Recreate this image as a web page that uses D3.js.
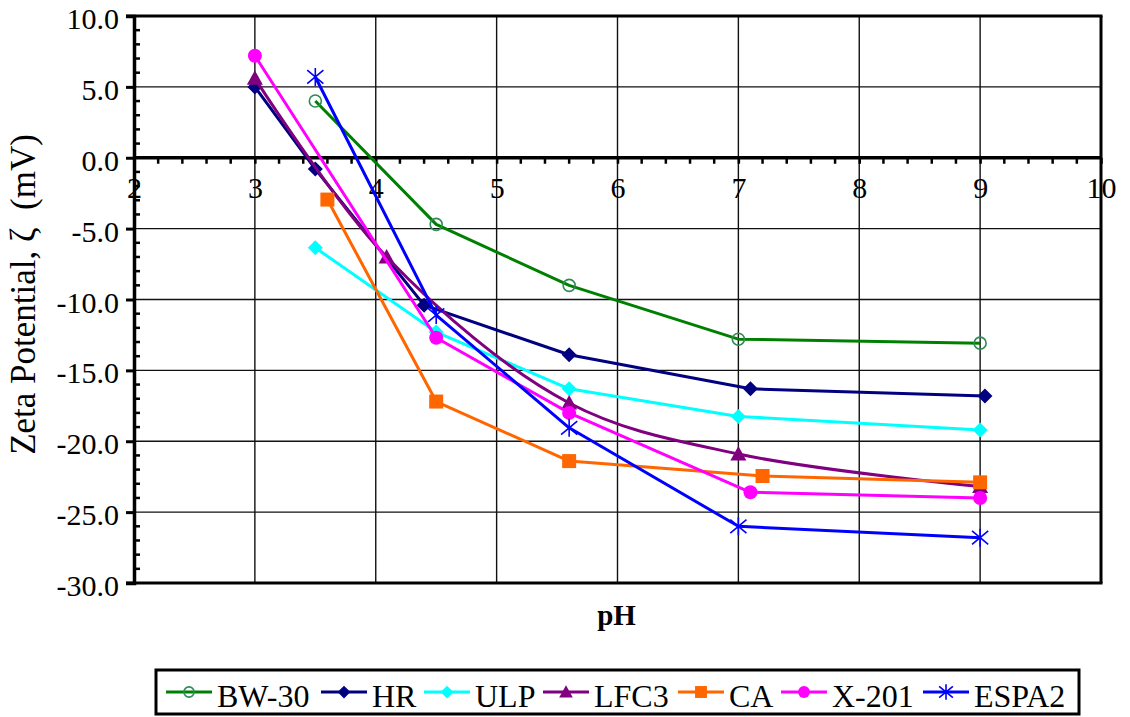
<!DOCTYPE html>
<html><head><meta charset="utf-8">
<script src="https://cdn.jsdelivr.net/npm/d3@7"></script>
<style>
html,body{margin:0;padding:0;background:#fff;}
svg{display:block;}
svg text{font-family:"Liberation Serif","Times New Roman",serif !important;white-space:pre;}
</style></head>
<body>
<svg id="chart" width="1130" height="717"></svg>
<script>
const seriesNames = ["BW-30","HR","ULP","LFC3","CA","X-201","ESPA2"];
const bw30  = [[3.5,4.0],[4.5,-4.7],[5.6,-9.0],[7.0,-12.8],[9.0,-13.08]];
const hr    = [[3.0,5.0],[3.5,-0.8],[4.4,-10.4],[5.6,-13.9],[7.1,-16.3],[9.04,-16.8]];
const ulp   = [[3.5,-6.35],[4.5,-12.3],[5.6,-16.3],[7.0,-18.25],[9.0,-19.2]];
const lfc3  = [[3.0,5.6],[4.09,-7.0],[5.6,-17.3],[7.0,-20.9],[9.0,-23.2]];
const ca    = [[3.6,-2.95],[4.5,-17.2],[5.6,-21.4],[7.2,-22.45],[9.0,-22.9]];
const x201  = [[3.0,7.2],[4.5,-12.7],[5.6,-18.0],[7.1,-23.6],[9.0,-24.0]];
const espa2 = [[3.5,5.7],[4.5,-11.1],[5.6,-19.05],[7.0,-26.0],[9.0,-26.8]];
const xTicks = [2,3,4,5,6,7,8,9,10];
const yTicks = [10,5,0,-5,-10,-15,-20,-25,-30];
const xTitle = "pH";
const yTitle = "Zeta Potential, \u03B6  (mV)";

const seriesData = [bw30,hr,ulp,lfc3,ca,x201,espa2];
const lineColors = ["#008000","#000080","#00ffff","#800080","#ff6600","#ff00ff","#0000ff"];
const markerTypes = ["ocircle","diamond","diamond","triangle","square","circle","asterisk"];
const smooth = [false,false,false,true,false,false,false];

const svg = d3.select("#chart");
const L=134, R=1101, T=16, B=583;
const x = d3.scaleLinear().domain([2,10]).range([L,R]);
const y = d3.scaleLinear().domain([-30,10]).range([B,T]);
const fmtY = d => d.toFixed(1);

// grid
const g = svg.append("g");
g.selectAll(".vg").data(xTicks.slice(1,-1)).join("line")
  .attr("x1",d=>x(d)).attr("x2",d=>x(d)).attr("y1",T).attr("y2",B)
  .attr("stroke","#111").attr("stroke-width",1.4);
g.selectAll(".hg").data(yTicks.filter(d=>d!==10&&d!==-30&&d!==0)).join("line")
  .attr("x1",L).attr("x2",R).attr("y1",d=>y(d)).attr("y2",d=>y(d))
  .attr("stroke","#111").attr("stroke-width",1.4);

// frame
g.append("line").attr("x1",L-8).attr("x2",R+1.5).attr("y1",T).attr("y2",T).attr("stroke","#000").attr("stroke-width",3);
g.append("line").attr("x1",L-8).attr("x2",R+1.5).attr("y1",B).attr("y2",B).attr("stroke","#000").attr("stroke-width",3);
g.append("line").attr("x1",R).attr("x2",R).attr("y1",T).attr("y2",B).attr("stroke","#000").attr("stroke-width",3);

// y axis
const yAxis = d3.axisLeft(y).tickValues(yTicks).tickSize(8).tickFormat(fmtY);
const ya = svg.append("g").attr("transform",`translate(${L},0)`).call(yAxis);
ya.attr("font-family",null).attr("font-size",null);
ya.select(".domain").attr("stroke-width",3.5);
ya.selectAll(".tick line").attr("stroke-width",3);
ya.selectAll(".tick text").style("font-size","30px")
  .attr("fill","#000").attr("x",-15).attr("dy","0.42em");
const yMinor = d3.range(-29,10,1).filter(v=>v%5!==0);
svg.append("g").selectAll("line").data(yMinor).join("line")
  .attr("x1",L).attr("x2",L+6).attr("y1",d=>y(d)).attr("y2",d=>y(d))
  .attr("stroke","#000").attr("stroke-width",2.5);

// x axis at y=0
const xAxis = d3.axisBottom(x).tickValues(xTicks).tickSize(6).tickFormat(d3.format("d"));
const xa = svg.append("g").attr("transform",`translate(0,${y(0)})`).call(xAxis);
xa.attr("font-family",null).attr("font-size",null);
xa.select(".domain").attr("stroke-width",3.5).attr("d",`M${L},0H${R}`);
xa.selectAll(".tick line").attr("stroke-width",2.5);
xa.selectAll(".tick text").style("font-size","30px")
  .attr("fill","#000").attr("y",31).attr("dy","0.3em");
const xMinor = d3.range(2.2,10,0.2).filter(v=>Math.abs(v-Math.round(v))>0.05);
svg.append("g").selectAll("line").data(xMinor).join("line")
  .attr("x1",d=>x(d)).attr("x2",d=>x(d)).attr("y1",y(0)).attr("y2",y(0)+6)
  .attr("stroke","#000").attr("stroke-width",2.5);

// titles
svg.append("text").attr("x",(L+R)/2-1).attr("y",625).attr("text-anchor","middle")
  .style("font-size","29px").attr("font-weight","bold").text(xTitle);
svg.append("text").attr("transform",`translate(35,${(T+B)/2-5}) rotate(-90)`)
  .attr("text-anchor","middle").style("font-size","35px").text(yTitle);

// markers
function drawMarker(sel, type, color, s){
  if(type==="ocircle"){
    sel.append("circle").attr("r",6*s).attr("fill","none").attr("stroke","#2e8b57").attr("stroke-width",1.6);
  } else if(type==="circle"){
    sel.append("circle").attr("r",7*s).attr("fill",color);
  } else if(type==="diamond"){
    const r=7.5*s;
    sel.append("path").attr("d",`M0,${-r}L${r},0L0,${r}L${-r},0Z`).attr("fill",color);
  } else if(type==="square"){
    const h=7*s;
    sel.append("rect").attr("x",-h).attr("y",-h).attr("width",2*h).attr("height",2*h).attr("fill",color);
  } else if(type==="triangle"){
    const r=8*s;
    sel.append("path").attr("d",`M0,${-r}L${r},${r*0.8}L${-r},${r*0.8}Z`).attr("fill",color);
  } else if(type==="asterisk"){
    const r=9*s;
    sel.append("path").attr("d",`M0,${-r}V${r}M${-r*0.9},${-r*0.75}L${r*0.9},${r*0.75}M${-r*0.9},${r*0.75}L${r*0.9},${-r*0.75}`)
      .attr("stroke",color).attr("stroke-width",1.6).attr("fill","none");
  }
}

const plot = svg.append("g");
seriesData.forEach((data,i)=>{
  const line = d3.line().x(d=>x(d[0])).y(d=>y(d[1]))
    .curve(smooth[i]? d3.curveCatmullRom.alpha(0.5) : d3.curveLinear);
  plot.append("path").datum(data).attr("d",line).attr("fill","none")
    .attr("stroke",lineColors[i]).attr("stroke-width",3).attr("stroke-linejoin","round");
  plot.append("g").selectAll("g").data(data).join("g")
    .attr("transform",d=>`translate(${x(d[0])},${y(d[1])})`)
    .each(function(){ drawMarker(d3.select(this), markerTypes[i], lineColors[i], 1); });
});

// legend
const lg = svg.append("g");
lg.append("rect").attr("x",156).attr("y",670).attr("width",923).attr("height",44)
  .attr("fill","#fff").attr("stroke","#000").attr("stroke-width",3);
const legX = [166,321,424,543,678,781,923];
seriesNames.forEach((name,i)=>{
  const it = lg.append("g").attr("transform",`translate(${legX[i]},692)`);
  it.append("line").attr("x1",0).attr("x2",46).attr("stroke",lineColors[i]).attr("stroke-width",3);
  const m = it.append("g").attr("transform","translate(23,0)");
  drawMarker(m, markerTypes[i], lineColors[i], 0.85);
  it.append("text").attr("x",51).attr("y",15).style("font-size","32px").attr("fill","#000").text(name);
});
</script>
</body></html>
